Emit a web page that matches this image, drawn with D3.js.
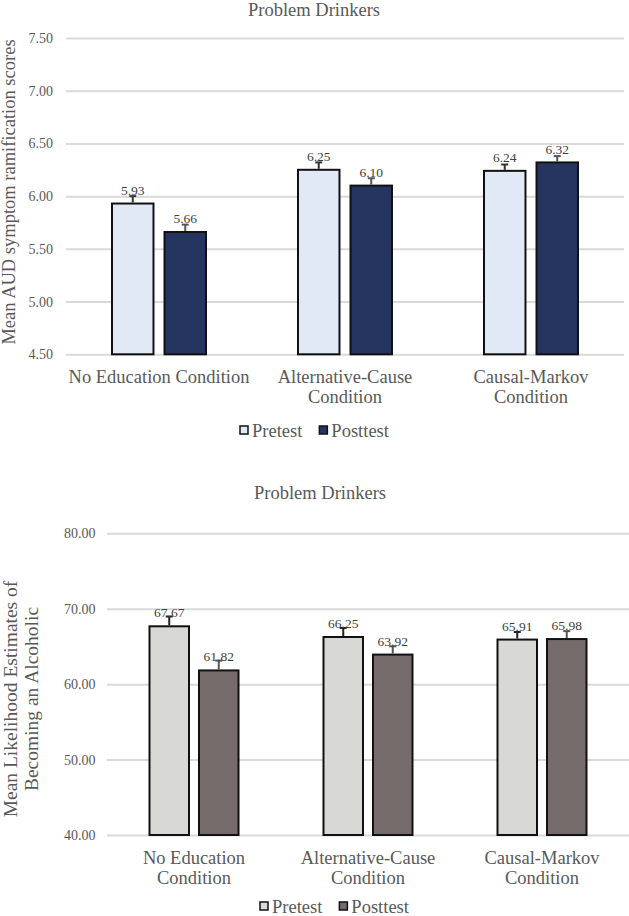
<!DOCTYPE html>
<html>
<head>
<meta charset="utf-8">
<script src="https://cdn.jsdelivr.net/npm/d3@7"></script>
<style>
body { margin: 0; background: #fff; }
text { font-family: "Liberation Serif", "Times New Roman", serif; }
</style>
</head>
<body>
<div id="chart"></div>
<script>
// Chart data
var conditions = ["No Education Condition", "Alternative-Cause Condition", "Causal-Markov Condition"]
var series = ["Pretest", "Posttest"]

// Top chart - AUD symptom ramification scores
var audPre = [5.93, 6.25, 6.24]
var audPost = [5.66, 6.10, 6.32]
var audPreErr = [0.07, 0.07, 0.06]
var audPostErr = [0.07, 0.07, 0.06]
var audTicks = [4.5, 5.0, 5.5, 6.0, 6.5, 7.0, 7.5]

// Bottom chart - likelihood estimates of becoming an alcoholic
var likePre = [67.67, 66.25, 65.91]
var likePost = [61.82, 63.92, 65.98]
var likePreErr = [1.3, 1.2, 1.0]
var likePostErr = [1.3, 1.1, 1.05]
var likeTicks = [40, 50, 60, 70, 80]

var width = 629
var height = 916

var svg = d3.select("#chart")
.append("svg")
.attr("width", width)
.attr("height", height)
.attr("font-family", "Liberation Serif, Times New Roman, serif")

function drawChart(cfg) {
    var g = svg.append("g")

    var x = d3.scaleBand()
    .domain(conditions)
    .range([cfg.left, cfg.right])

    var xs = d3.scaleBand()
    .domain(series)
    .range([0, x.bandwidth()])
    .paddingInner(cfg.pInner)
    .paddingOuter(cfg.pOuter)

    var y = d3.scaleLinear()
    .domain(cfg.domain)
    .range([cfg.bottom, cfg.top])

    // Title
    g.append("text")
    .attr("x", cfg.titleX)
    .attr("y", cfg.titleY)
    .attr("text-anchor", "middle")
    .attr("font-size", "18.5px")
    .attr("fill", "#595959")
    .text("Problem Drinkers")

    // Gridlines and tick labels
    var axis = d3.axisLeft(y)
    .tickValues(cfg.ticks)
    .tickFormat(d3.format(".2f"))
    .tickSize(-(cfg.right - cfg.left))
    .tickPadding(cfg.left - cfg.tickX)

    var ax = g.append("g")
    .attr("transform", "translate(" + cfg.left + ",0)")
    .call(axis)
    ax.select(".domain").remove()
    ax.selectAll(".tick line")
    .attr("stroke", "#d9d9d9")
    .attr("stroke-width", 2)
    ax.selectAll(".tick text")
    .attr("fill", "#595959")
    .attr("font-size", "14px")
    .attr("font-family", "Liberation Serif, Times New Roman, serif")

    // Bars
    var rows = []
    conditions.forEach(function (c, i) {
        rows.push({cond: c, s: "Pretest", v: cfg.pre[i], e: cfg.preErr[i]})
        rows.push({cond: c, s: "Posttest", v: cfg.post[i], e: cfg.postErr[i]})
    })

    var bars = g.selectAll(".bar")
    .data(rows)
    .enter()
    .append("g")
    .attr("transform", function (d) { return "translate(" + (x(d.cond) + xs(d.s)) + ",0)" })

    bars.append("rect")
    .attr("x", 0)
    .attr("width", xs.bandwidth())
    .attr("y", function (d) { return y(d.v) })
    .attr("height", function (d) { return y(cfg.domain[0]) - y(d.v) })
    .attr("fill", function (d) { return cfg.colors[series.indexOf(d.s)] })
    .attr("stroke", "#111")
    .attr("stroke-width", 2)

    // Error bars (plus only)
    var cx = xs.bandwidth() / 2
    bars.append("line")
    .attr("x1", cx).attr("x2", cx)
    .attr("y1", function (d) { return y(d.v) - 1 })
    .attr("y2", function (d) { return y(d.v + d.e) })
    .attr("stroke", function (d) { return cfg.errColors[series.indexOf(d.s)] })
    .attr("stroke-width", 2)
    bars.append("line")
    .attr("x1", cx - 3.5).attr("x2", cx + 3.5)
    .attr("y1", function (d) { return y(d.v + d.e) })
    .attr("y2", function (d) { return y(d.v + d.e) })
    .attr("stroke", function (d) { return cfg.errColors[series.indexOf(d.s)] })
    .attr("stroke-width", 2)

    // Value labels
    bars.append("text")
    .attr("x", cx)
    .attr("y", function (d) { return y(d.v) - cfg.labelGap })
    .attr("text-anchor", "middle")
    .attr("font-size", "13.5px")
    .attr("fill", "#404040")
    .text(function (d) { return d.v.toFixed(2) })

    // Category labels, wrapped when wider than the band
    conditions.forEach(function (c) {
        var t = g.append("text")
        .attr("text-anchor", "middle")
        .attr("font-size", "18.5px")
        .attr("fill", "#595959")
        .attr("x", x(c) + x.bandwidth() / 2)
        .attr("y", cfg.catY)
        .text(c)
        if (t.node().getComputedTextLength() > x.bandwidth() - 2) {
            var k = c.lastIndexOf(" ")
            t.text(null)
            t.append("tspan").attr("x", x(c) + x.bandwidth() / 2).text(c.slice(0, k))
            t.append("tspan").attr("x", x(c) + x.bandwidth() / 2).attr("dy", 20).text(c.slice(k + 1))
        }
    })

    // Y axis title
    var yt = g.append("text")
    .attr("transform", "translate(" + cfg.yTitleX + "," + cfg.yTitleY + ") rotate(-90)")
    .attr("text-anchor", "middle")
    .attr("font-size", cfg.yTitleSize)
    .attr("fill", "#595959")
    cfg.yTitle.forEach(function (line, i) {
        yt.append("tspan").attr("x", 0).attr("y", i * 21).text(line)
    })

    // Legend
    var lx = cfg.legendX
    series.forEach(function (s, i) {
        g.append("rect")
        .attr("x", lx)
        .attr("y", cfg.legendY - 5)
        .attr("width", 8)
        .attr("height", 8)
        .attr("fill", cfg.colors[i])
        .attr("stroke", "#111")
        .attr("stroke-width", 1.5)
        var lt = g.append("text")
        .attr("x", lx + 12)
        .attr("y", cfg.legendY + 6)
        .attr("font-size", "18.5px")
        .attr("fill", "#595959")
        .text(s)
        lx = lx + 12 + lt.node().getComputedTextLength() + 17
    })
}

drawChart({
    left: 66, right: 624, top: 38, bottom: 354.3,
    domain: [4.5, 7.5], ticks: audTicks, tickX: 53,
    pInner: 0.21, pOuter: 0.876,
    pre: audPre, post: audPost, preErr: audPreErr, postErr: audPostErr,
    colors: ["#e2e9f6", "#253560"], errColors: ["#333", "#555"],
    labelGap: 8.5,
    titleX: 314, titleY: 16,
    catY: 383,
    yTitle: ["Mean AUD symptom ramification scores"], yTitleSize: "18.5px", yTitleX: 14.5, yTitleY: 192,
    legendX: 240, legendY: 431
})

drawChart({
    left: 107, right: 629, top: 533.3, bottom: 835,
    domain: [40, 80], ticks: likeTicks, tickX: 95.5,
    pInner: 0.202, pOuter: 0.8585,
    pre: likePre, post: likePost, preErr: likePreErr, postErr: likePostErr,
    colors: ["#d8d8d6", "#766b6b"], errColors: ["#222", "#555"],
    labelGap: 9,
    titleX: 320, titleY: 499,
    catY: 864,
    yTitle: ["Mean Likelihood Estimates of", "Becoming an Alcoholic"], yTitleSize: "19.5px", yTitleX: 17, yTitleY: 699,
    legendX: 260, legendY: 907
})
</script>
</body>
</html>
